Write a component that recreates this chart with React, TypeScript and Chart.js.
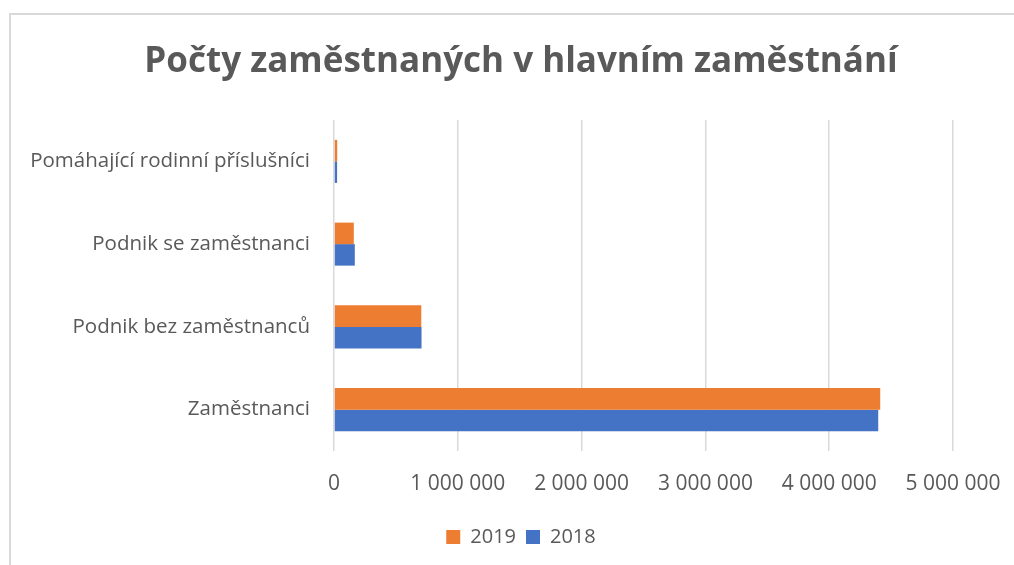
import React, { useEffect, useRef } from "react";
import { Chart, registerables } from "chart.js";

Chart.register(...registerables);

const categories: string[] = [
  "Pomáhající rodinní příslušníci",
  "Podnik se zaměstnanci",
  "Podnik bez zaměstnanců",
  "Zaměstnanci",
];
const values2019: number[] = [26000, 160000, 705000, 4412000];
const values2018: number[] = [25000, 168000, 707000, 4396000];
const seriesNames: string[] = ["2019", "2018"];
const xMax = 5000000;
const xStep = 1000000;
const titleText = "Počty zaměstnaných v hlavním zaměstnání";

const TEXT = "#595959";
const FONT = "'Open Sans', 'Noto Sans', sans-serif";

function fmt(v: number): string {
  return String(v).replace(/\B(?=(\d{3})+(?!\d))/g, " ");
}

export default function App() {
  const ref = useRef<HTMLCanvasElement | null>(null);

  useEffect(() => {
    document.body.style.margin = "0";
    const ctx = ref.current!.getContext("2d")!;
    const chart = new Chart(ctx, {
      type: "bar",
      data: {
        labels: categories,
        datasets: [
          {
            label: seriesNames[0],
            data: values2019,
            backgroundColor: "#ED7D31",
            borderWidth: 0,
            categoryPercentage: 0.52,
            barPercentage: 1,
          },
          {
            label: seriesNames[1],
            data: values2018,
            backgroundColor: "#4472C4",
            borderWidth: 0,
            categoryPercentage: 0.52,
            barPercentage: 1,
          },
        ],
      },
      options: {
        indexAxis: "y",
        animation: false,
        responsive: false,
        devicePixelRatio: 1,
        layout: { padding: { left: 0, right: -10, top: 0, bottom: 8 } },
        plugins: {
          title: {
            display: true,
            text: titleText,
            color: TEXT,
            font: { family: FONT, size: 35, weight: "bold", lineHeight: 1.2 },
            padding: { top: 26.2, bottom: 36.8 },
          },
          legend: {
            position: "bottom",
            labels: {
              color: TEXT,
              font: { family: FONT, size: 20 },
              boxWidth: 14,
              boxHeight: 14,
              padding: 10,
            },
          },
          tooltip: { enabled: false },
        },
        scales: {
          x: {
            min: 0,
            max: xMax,
            grid: { color: "#D9D9D9", lineWidth: 1.5, drawTicks: false },
            border: { display: false },
            ticks: {
              stepSize: xStep,
              color: TEXT,
              font: { family: FONT, size: 21 },
              padding: 20.5,
              maxRotation: 0,
              callback: (v: any) => fmt(Number(v)),
            },
            afterFit: (s: any) => {
              s.height = 66;
            },
          },
          y: {
            grid: { display: false, drawTicks: false },
            border: { display: false },
            ticks: {
              color: TEXT,
              font: { family: FONT, size: 20.5 },
              padding: 24,
            },
            afterFit: (s: any) => {
              s.width = 323;
            },
          },
        },
      },
    });
    return () => chart.destroy();
  }, []);

  return (
    <div
      style={{
        position: "fixed",
        left: 0,
        top: 0,
        width: 1014,
        height: 565,
        overflow: "hidden",
        background: "#fff",
      }}
    >
      <div
        style={{
          position: "absolute",
          left: 9,
          top: 13,
          width: 1040,
          height: 570,
          borderLeft: "2px solid #D9D9D9",
          borderTop: "2px solid #D9D9D9",
        }}
      />
      <canvas
        ref={ref}
        width={1010}
        height={550}
        style={{ position: "absolute", left: 11, top: 15, width: 1010, height: 550 }}
      />
    </div>
  );
}
